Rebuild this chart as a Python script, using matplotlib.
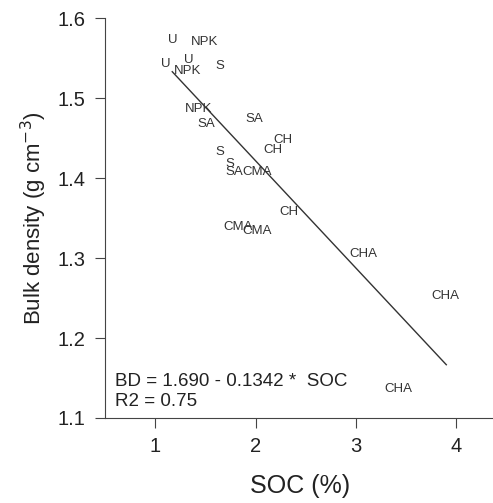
import matplotlib
matplotlib.use("Agg")
import matplotlib.pyplot as plt
import numpy as np

plt.rcParams['font.family'] = ['Liberation Sans', 'DejaVu Sans']

# treatment labels with their SOC (%) and bulk density (g cm-3)
treatments = ['U', 'NPK', 'U', 'U', 'NPK', 'S', 'NPK', 'SA', 'SA', 'CH', 'CH',
              'S', 'S', 'SA', 'CMA', 'CH', 'CMA', 'CMA', 'CHA', 'CHA', 'CHA']
soc = [1.17, 1.49, 1.11, 1.33, 1.32, 1.64, 1.43, 1.51, 1.99, 2.27, 2.17,
       1.64, 1.74, 1.79, 2.02, 2.33, 1.83, 2.02, 3.07, 3.89, 3.42]
bd = [1.573, 1.570, 1.542, 1.547, 1.534, 1.540, 1.486, 1.468, 1.474, 1.447, 1.435,
      1.433, 1.417, 1.408, 1.408, 1.357, 1.339, 1.334, 1.305, 1.253, 1.136]

# regression BD = a - b * SOC
intercept = 1.690
slope = -0.1342
r2 = 0.75
fit_range = [1.17, 3.90]

fig = plt.figure(figsize=(4.93, 5.03), dpi=100)
ax = fig.add_axes([0.213, 0.169, 0.79, 0.795])

for lab, x, y in zip(treatments, soc, bd):
    ax.text(x, y, lab, ha='center', va='center', fontsize=9.5, color='#333333')

fx = np.array(fit_range)
ax.plot(fx, intercept + slope * fx, color='#333333', lw=1.0)

ax.text(0.6, 1.146, 'BD = %.3f - %.4f *  SOC' % (intercept, -slope),
        fontsize=13.5, color='#222222', va='center')
ax.text(0.6, 1.120, 'R2 = %.2f' % r2, fontsize=13.5, color='#222222', va='center')

ax.set_xlim(0.5, 4.38)
ax.set_ylim(1.1, 1.6)
ax.set_xticks([1, 2, 3, 4])
ax.set_yticks([1.1, 1.2, 1.3, 1.4, 1.5, 1.6])
ax.set_yticklabels(['1.1', '1.2', '1.3', '1.4', '1.5', '1.6'])
ax.spines['top'].set_visible(False)
ax.spines['right'].set_visible(False)
for s in ('left', 'bottom'):
    ax.spines[s].set_color('#444444')
ax.tick_params(direction='out', length=7, colors='#444444', labelsize=14.5,
               labelcolor='#222222')
ax.tick_params(axis='y', pad=7)
ax.tick_params(axis='x', pad=7)
ax.set_xlabel('SOC (%)', fontsize=18, color='#222222', labelpad=13)
ax.set_ylabel('Bulk density (g cm$^{-3}$)', fontsize=16, color='#222222', labelpad=6)

fig.savefig('out.png', dpi=100)
